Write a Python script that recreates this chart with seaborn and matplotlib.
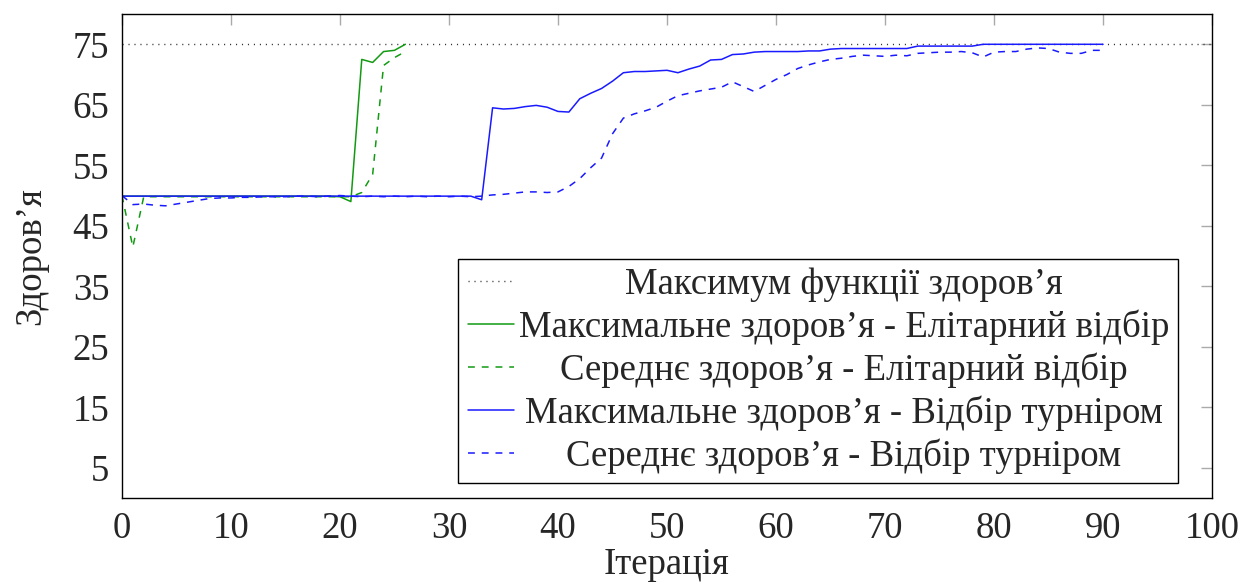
import numpy as np
import pandas as pd
import seaborn as sns
import matplotlib
matplotlib.use("Agg")
import matplotlib.pyplot as plt
from matplotlib.transforms import Affine2D

# iterations / fitness values
elite_iter = list(range(0, 27))
elite_max = [49.9, 49.9, 49.9, 49.9, 49.9, 49.9, 49.9, 49.9, 49.9, 49.9,
             49.9, 49.9, 49.9, 49.9, 49.9, 49.9, 49.9, 49.9, 49.9, 49.9,
             49.8, 49.0, 72.5, 72.0, 73.8, 74.0, 75.0]
elite_avg = [50.0, 41.5, 49.8, 49.8, 49.8, 49.8, 49.8, 49.8, 49.8, 49.8,
             49.8, 49.8, 49.8, 49.8, 49.8, 49.8, 49.8, 49.8, 49.8, 49.8,
             49.8, 49.8, 50.5, 53.5, 71.5, 72.8, 73.8]

tour_iter = list(range(0, 91))
tour_max = [49.9, 49.9, 49.9, 49.9, 49.9, 49.9, 49.9, 49.9, 49.9, 49.9,
            49.9, 49.9, 49.9, 49.9, 49.9, 49.9, 49.9, 49.9, 49.9, 49.9,
            49.9, 49.9, 49.9, 49.9, 49.9, 49.9, 49.9, 49.9, 49.9, 49.9,
            49.9, 49.9, 49.9, 49.3, 64.5, 64.3, 64.4, 64.7, 64.9, 64.6,
            63.9, 63.8, 66.0, 66.9, 67.7, 68.9, 70.3, 70.5, 70.5, 70.6,
            70.7, 70.3, 70.9, 71.4, 72.4, 72.5, 73.3, 73.4, 73.7, 73.8,
            73.8, 73.8, 73.8, 73.9, 73.9, 74.2, 74.3, 74.3, 74.3, 74.3,
            74.3, 74.3, 74.3, 74.7, 74.7, 74.7, 74.7, 74.7, 74.7, 75.0,
            75.0, 75.0, 75.0, 75.0, 75.0, 75.0, 75.0, 75.0, 75.0, 75.0,
            75.0]
tour_avg = [50.0, 48.5, 48.6, 48.4, 48.3, 48.6, 48.9, 49.2, 49.5, 49.6,
            49.6, 49.7, 49.7, 49.8, 49.8, 49.8, 49.9, 49.9, 49.8, 49.9,
            50.0, 49.9, 49.8, 49.9, 49.8, 49.9, 49.8, 49.9, 49.8, 49.9,
            49.8, 49.9, 49.8, 49.9, 50.1, 50.2, 50.4, 50.6, 50.6, 50.5,
            50.6, 51.5, 52.8, 54.6, 56.2, 60.2, 62.8, 63.5, 64.0, 64.6,
            65.6, 66.5, 66.9, 67.3, 67.6, 67.9, 68.8, 68.0, 67.2, 68.2,
            69.2, 70.0, 71.0, 71.6, 72.1, 72.5, 72.7, 73.0, 73.2, 73.1,
            73.0, 73.2, 73.1, 73.5, 73.6, 73.7, 73.7, 73.8, 73.6, 72.9,
            73.7, 73.8, 73.8, 74.2, 74.4, 74.3, 73.7, 73.5, 73.5, 74.0,
            74.0]

opt_x = [0, 100]
opt_y = [75, 75]

labels = ["Максимум функції здоров’я",
          "Максимальне здоров’я - Елітарний відбір",
          "Середнє здоров’я - Елітарний відбір",
          "Максимальне здоров’я - Відбір турніром",
          "Середнє здоров’я - Відбір турніром"]

sns.set_style("white")
plt.rcParams['font.family'] = ['Liberation Serif', 'DejaVu Serif']
FS = 26.5

fig = plt.figure(figsize=(12.43, 5.85), dpi=100)
ax = fig.add_axes([0.0981, 0.1487, 0.8770, 0.8273])

green = '#129a12'
blue = '#1a1aff'
dash = (0, (4.5, 4.5))

sns.lineplot(x=opt_x, y=opt_y, ax=ax, color='#333333', lw=1.0,
             linestyle=(0, (0.8, 3.5)), label=labels[0])
sns.lineplot(x=elite_iter, y=elite_max, ax=ax, color=green, lw=1.1, label=labels[1])
sns.lineplot(x=elite_iter, y=elite_avg, ax=ax, color=green, lw=1.1,
             linestyle=dash, label=labels[2])
sns.lineplot(x=tour_iter, y=tour_max, ax=ax, color=blue, lw=1.1, label=labels[3])
sns.lineplot(x=tour_iter, y=tour_avg, ax=ax, color=blue, lw=1.1,
             linestyle=dash, label=labels[4])

ax.set_xlim(0, 100)
ax.set_ylim(0, 80)
ax.set_xticks(range(0, 101, 10))
ax.set_yticks(range(5, 80, 10))
ax.tick_params(direction='in', length=8, width=1, color='#aaaaaa',
               top=True, right=True, labelsize=FS)
ax.tick_params(axis='x', pad=10)
ax.tick_params(axis='y', pad=9)
for s in ax.spines.values():
    s.set_color('black')
    s.set_linewidth(1.0)

ax.set_xlabel("Ітерація", fontsize=FS, labelpad=1)
ax.set_ylabel("Здоров’я", fontsize=FS, labelpad=18)

leg = ax.legend(loc='lower right', bbox_to_anchor=(0.969, 0.031),
                borderaxespad=0, fontsize=FS, frameon=True, fancybox=False,
                framealpha=1, edgecolor='black', handlelength=1.25,
                handletextpad=0.14, labelspacing=0.2, borderpad=0.25)
leg.get_frame().set_linewidth(1.0)

# centre legend labels like pgfplots does
fig.canvas.draw()
rend = fig.canvas.get_renderer()
texts = leg.get_texts()
widths = [t.get_window_extent(rend).width for t in texts]
wmax = max(widths)
for t, w in zip(texts, widths):
    t.set_transform(t.get_transform() + Affine2D().translate((wmax - w) / 2, 0))

fig.savefig("out.png", dpi=100)
